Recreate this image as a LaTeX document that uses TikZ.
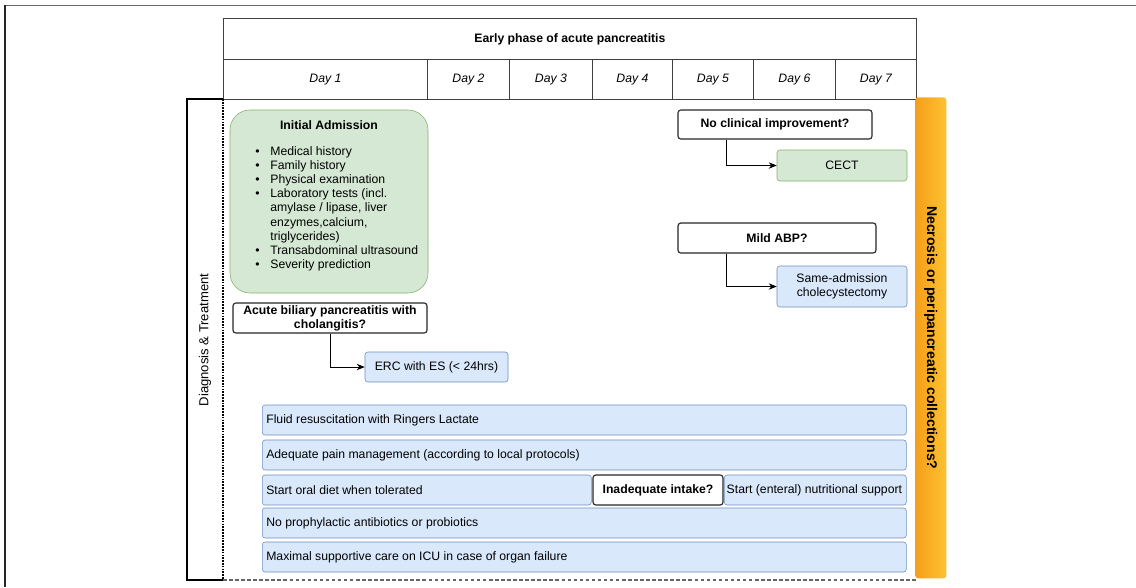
\documentclass[tikz,border=0pt]{standalone}
\usepackage{fontspec}
\setmainfont{Liberation Sans}
\usetikzlibrary{arrows.meta}
\definecolor{apgreen}{HTML}{D5E8D4}
\definecolor{apgreenline}{HTML}{82B366}
\definecolor{apblue}{HTML}{DAE8FC}
\definecolor{apblueline}{HTML}{6C8EBF}
\definecolor{apdark}{HTML}{F59E1B}
\definecolor{aplight}{HTML}{FDC22F}
\newcommand{\phasefont}{\fontsize{8.7}{10.1}\selectfont}
\newcommand{\itm}[1]{\textbullet\hspace{2.7mm}#1}
\newcommand{\itmcont}[1]{\hphantom{\textbullet}\hspace{2.7mm}#1}

\begin{document}
\begin{tikzpicture}[x=0.25mm,y=-0.25mm,
  every node/.style={font=\phasefont},
  cell/.style={draw=black!75,line width=0.6pt,anchor=north west,inner sep=0pt,
               font=\phasefont\itshape},
  qbox/.style={draw=black!85,line width=0.8pt,rounded corners=2pt,fill=white,
               align=center,inner sep=0pt,font=\phasefont\bfseries},
  gbox/.style={draw=apgreenline,fill=apgreen,rounded corners=2pt,inner sep=0pt,align=center},
  bbox/.style={draw=apblueline,fill=apblue,rounded corners=2pt,inner sep=0pt,align=center},
  row/.style={bbox,anchor=west,align=flush left,inner xsep=1mm,minimum height=7.5mm},
  arr/.style={-{Stealth[length=2mm,width=1.6mm]},line width=0.6pt}]
  \useasboundingbox (0,0) rectangle (1136,587);
  \draw[black!60,line width=0.6pt] (5,5) -- (1136,5);
  \draw[black!85,line width=0.8pt] (5,5) -- (5,587);

  \node[cell,font=\phasefont\bfseries,minimum width=173.25mm,minimum height=10.25mm] (phase) at (223,18)
    {Early phase of acute pancreatitis};
  \foreach \d/\a/\b in {1/223/427,2/427/509,3/509/592,4/592/672,5/672/753,6/753/835,7/835/916}
    \node[cell,minimum width={(\b-\a)*0.25mm},minimum height=10mm] (day\d) at (\a,59) {Day \d};

  \draw[line width=0.8pt] (223,99) -| (187,580) -- (223,580);
  \draw[line width=0.8pt,dash pattern=on 1.2pt off 0.8pt] (223,99) -- (223,580);
  \draw[black!60,line width=0.8pt,dash pattern=on 2.5pt off 1.8pt] (223,580) -- (916,580);
  \node[rotate=90,font=\fontsize{9.3}{11}\selectfont] (lane) at (205,340) {Diagnosis \& Treatment};

  \node[rounded corners=2pt,left color=apdark,right color=aplight,inner sep=0pt,
        minimum width=7.75mm,minimum height=120.25mm,anchor=north west] (necro) at (915,97) {};
  \node[rotate=-90,font=\fontsize{10}{12}\selectfont\bfseries] (necrot) at (necro.center)
    {Necrosis or peripancreatic collections?};

  \node[gbox,rounded corners=5mm,minimum width=49.5mm,minimum height=45.75mm] (adm) at (329,201.5) {};
  \node[font=\phasefont\bfseries] (admt) at (329,125) {Initial Admission};
  \node[anchor=north west,align=left,inner sep=0pt] (admlist) at (255,146)
    {\itm{Medical history}\\ \itm{Family history}\\ \itm{Physical examination}\\
     \itm{Laboratory tests (incl.}\\ \itmcont{amylase / lipase, liver}\\
     \itmcont{enzymes,calcium,}\\ \itmcont{triglycerides)}\\
     \itm{Transabdominal ultrasound}\\ \itm{Severity prediction}};

  \node[qbox,minimum width=48.5mm,minimum height=7.5mm] (abc) at (330,318)
    {Acute biliary pancreatitis with\\ cholangitis?};
  \node[bbox,minimum width=35.75mm,minimum height=7.5mm] (erc) at (436.5,367) {ERC with ES (< 24hrs)};
  \draw[arr] (abc) |- (erc);

  \node[qbox,minimum width=48.5mm,minimum height=7.25mm] (nci) at (775,124.5) {No clinical improvement?};
  \node[gbox,minimum width=32.5mm,minimum height=7.75mm] (cect) at (842,165.5) {CECT};
  \draw[arr] ([xshift=12.25mm]nci.south west) |- (cect);

  \node[qbox,minimum width=49.5mm,minimum height=7.5mm] (abp) at (777,238) {Mild ABP?};
  \node[bbox,minimum width=32.5mm,minimum height=10.25mm] (chol) at (842,286.5)
    {Same-admission\\ cholecystectomy};
  \draw[arr] ([xshift=12.25mm]abp.south west) |- (chol);

  \node[row,text width=159mm] (fluid) at (262,420) {Fluid resuscitation with Ringers Lactate};
  \node[row,text width=159mm] (pain) at (262,455) {Adequate pain management (according to local protocols)};
  \node[row,text width=80.25mm] (oral) at (262,490) {Start oral diet when tolerated};
  \node[qbox,minimum width=32.5mm,minimum height=7.5mm] (intake) at (658,490) {Inadequate intake?};
  \node[row,inner xsep=0.6mm,text width=44.3mm] (enteral) at (724,490) {Start (enteral) nutritional support};
  \node[row,text width=159mm] (abx) at (262,523) {No prophylactic antibiotics or probiotics};
  \node[row,text width=159mm] (icu) at (262,557) {Maximal supportive care on ICU in case of organ failure};
\end{tikzpicture}
\end{document}
